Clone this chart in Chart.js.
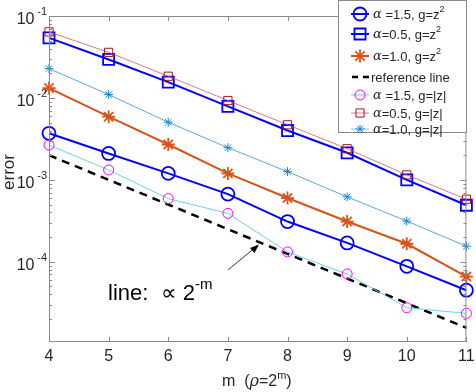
<!DOCTYPE html>
<html>
<head>
<meta charset="utf-8">
<script src="https://cdn.jsdelivr.net/npm/chart.js@4.4.1/dist/chart.umd.min.js"></script>
<style>
  html, body { margin: 0; padding: 0; background: #fff; }
  #wrap { width: 476px; height: 392px; }
</style>
</head>
<body>
<div id="wrap"><canvas id="chart" width="476" height="392"></canvas></div>
<script>
// m values (x axis)
const mValues = [4, 5, 6, 7, 8, 9, 10, 11];

// errors
const a15z2 = [3.7e-3, 2.1e-3, 1.2e-3, 6.7e-4, 3.1e-4, 1.7e-4, 8.8e-5, 4.5e-5];
const a05z2 = [5.4e-2, 2.95e-2, 1.56e-2, 7.9e-3, 4.0e-3, 2.14e-3, 1.0e-3, 4.9e-4];
const a10z2 = [1.32e-2, 5.9e-3, 2.7e-3, 1.2e-3, 6.0e-4, 3.1e-4, 1.66e-4, 6.6e-5];
const refLine = [2.0e-3, 1.0e-3, 5.0e-4, 2.5e-4, 1.25e-4, 6.25e-5, 3.125e-5, 1.5625e-5];
const a15abs = [2.66e-3, 1.32e-3, 5.9e-4, 3.9e-4, 1.32e-4, 7.1e-5, 2.75e-5, 2.35e-5];
const a05abs = [6.4e-2, 3.6e-2, 1.84e-2, 9.3e-3, 4.7e-3, 2.4e-3, 1.15e-3, 5.8e-4];
const a10abs = [2.28e-2, 1.1e-2, 5.05e-3, 2.47e-3, 1.26e-3, 6.2e-4, 3.14e-4, 1.55e-4];

const yDecades = [-1, -2, -3, -4];

const toPts = arr => mValues.map((m, i) => ({ x: m, y: arr[i] }));

const TXT = '#262626';
const FRAME = '#8a8a8a';
const SANS = '"Liberation Sans", Arial, sans-serif';

function series(label, arr, color, lineColor, width, style, radius, bw, dash) {
  return {
    label, data: toPts(arr),
    borderColor: lineColor, borderWidth: width, borderDash: dash || [],
    pointStyle: style, pointRadius: radius, pointBorderColor: color,
    pointBorderWidth: bw, pointBackgroundColor: 'rgba(0,0,0,0)',
    pointHoverRadius: radius, tension: 0, clip: false, fill: false
  };
}

const datasets = [
  series('a05abs', a05abs, '#A2142F', '#c45a72', 0.8, 'rect', 5.8, 1, null),
  series('a10abs', a10abs, '#1f86c8', '#2f92d0', 0.8, 'star', 4.5, 1, null),
  series('a15abs', a15abs, '#ff00ff', '#6fcdee', 1, 'circle', 5, 1, null),
  series('ref', refLine, '#000', '#000', 2.5, false, 0, 0, [8, 6]),
  series('a15z2', a15z2, '#0000ff', '#0000ff', 2, 'circle', 6.5, 1.8, null),
  series('a05z2', a05z2, '#0000ff', '#0000ff', 2, 'rect', 7.8, 1.8, null),
  series('a10z2', a10z2, '#D95319', '#D95319', 2, 'star', 6.5, 1.8, null)
];

// legend entries (drawn by hand so alpha and exponents render like the figure)
const legendRows = [
  { y: 14, style: 'circle', r: 6.5, color: '#0000ff', line: '#0000ff', lw: 2, bw: 1.8, text: [['\u03b1', 'a'], [' =1.5, g=z', 'n'], ['2', 's']] },
  { y: 34, style: 'rect', r: 7.8, color: '#0000ff', line: '#0000ff', lw: 2, bw: 1.8, text: [['\u03b1', 'a'], ['=0.5, g=z', 'n'], ['2', 's']] },
  { y: 56, style: 'star', r: 6.5, color: '#D95319', line: '#D95319', lw: 2, bw: 1.8, text: [['\u03b1', 'a'], ['=1.0, g=z', 'n'], ['2', 's']] },
  { y: 77, style: null, color: '#000', line: '#000', lw: 2.5, text: [['reference line', 'n']] },
  { y: 95, style: 'circle', r: 5, color: '#ff00ff', line: '#6fcdee', lw: 1, bw: 1, text: [['\u03b1', 'a'], [' =1.5, g=|z|', 'n']] },
  { y: 113, style: 'rect', r: 5.8, color: '#A2142F', line: '#c45a72', lw: 0.8, bw: 1, text: [['\u03b1', 'a'], ['=0.5, g=|z|', 'n']] },
  { y: 129, style: 'star', r: 4.5, color: '#1f86c8', line: '#6fcdee', lw: 1, bw: 1, text: [['\u03b1', 'a'], ['=1.0, g=|z|', 'n']] }
];

function rich(ctx, x, y, parts, base) {
  const fonts = {
    n: base + 'px ' + SANS,
    a: 'italic ' + base + 'px "DejaVu Serif", "Liberation Serif", serif',
    s: Math.round(base * 0.7) + 'px ' + SANS
  };
  ctx.textBaseline = 'middle';
  ctx.textAlign = 'left';
  parts.forEach(([t, k]) => {
    ctx.font = fonts[k];
    const dy = k === 's' ? -base * 0.4 : 0;
    ctx.fillText(t, x, y + dy);
    x += ctx.measureText(t).width;
  });
  return x;
}

const decor = {
  id: 'decor',
  afterDraw(chart) {
    const { ctx, chartArea: a, scales } = chart;
    const xs = scales.x, ys = scales.y;
    ctx.save();

    // frame
    ctx.strokeStyle = FRAME;
    ctx.lineWidth = 1;
    ctx.strokeRect(a.left + 0.5, a.top + 0.5, a.right - a.left - 1, a.bottom - a.top - 1);

    // x ticks (inward, bottom and top)
    ctx.beginPath();
    mValues.forEach(m => {
      const px = Math.round(xs.getPixelForValue(m)) + 0.5;
      ctx.moveTo(px, a.bottom); ctx.lineTo(px, a.bottom - 5);
      ctx.moveTo(px, a.top); ctx.lineTo(px, a.top + 5);
    });
    // y ticks, major and minor
    for (let d = -5; d <= -2; d++) {
      for (let k = 1; k <= 9; k++) {
        const v = k * Math.pow(10, d);
        if (v < ys.min || v > ys.max) continue;
        const py = Math.round(ys.getPixelForValue(v)) + 0.5;
        const len = k === 1 ? 6 : 3;
        ctx.moveTo(a.left, py); ctx.lineTo(a.left + len, py);
        ctx.moveTo(a.right, py); ctx.lineTo(a.right - len, py);
      }
    }
    ctx.stroke();

    // x tick labels
    ctx.fillStyle = TXT;
    ctx.font = '16px ' + SANS;
    ctx.textAlign = 'center';
    ctx.textBaseline = 'middle';
    mValues.forEach(m => ctx.fillText(String(m), xs.getPixelForValue(m), 357));

    // y tick labels 10^d
    yDecades.forEach(d => {
      const py = ys.getPixelForValue(Math.pow(10, d));
      ctx.font = '11px ' + SANS;
      const ew = ctx.measureText(String(d).replace('-', '\u2212')).width;
      ctx.textAlign = 'right';
      ctx.fillText(String(d).replace('-', '-'), 47, py - 4);
      ctx.font = '16px ' + SANS;
      ctx.fillText('10', 47 - ew, py + 4);
    });

    // axis titles
    ctx.textAlign = 'center';
    ctx.font = '17px ' + SANS;
    ctx.save();
    ctx.translate(9, 172);
    ctx.rotate(-Math.PI / 2);
    ctx.fillText('error', 0, 0);
    ctx.restore();
    rich(ctx, 222, 382, [['m  (', 'n'], ['\u03c1', 'r'], ['=2', 'n'], ['m', 's'], [')', 'n']].map(p => p[1] === 'r' ? [p[0], 'a'] : p), 16);

    // annotation
    ctx.fillStyle = '#000';
    rich(ctx, 108, 294, [['line:  \u221d 2', 'n'], ['-m', 's']], 22);
    ctx.strokeStyle = '#000';
    ctx.lineWidth = 0.8;
    ctx.beginPath();
    ctx.moveTo(228, 270); ctx.lineTo(257, 246);
    ctx.stroke();
    ctx.beginPath();
    ctx.moveTo(259, 244.5); ctx.lineTo(250, 248); ctx.lineTo(254.5, 253);
    ctx.closePath();
    ctx.fillStyle = '#000';
    ctx.fill();

    // legend
    ctx.fillStyle = '#fff';
    ctx.fillRect(338, 0, 129, 133);
    ctx.strokeStyle = FRAME;
    ctx.lineWidth = 1;
    ctx.strokeRect(338.5, 0.5, 128, 132);
    legendRows.forEach(r => {
      ctx.strokeStyle = r.line;
      ctx.lineWidth = r.lw;
      ctx.setLineDash(r.style ? [] : [6, 5]);
      ctx.beginPath();
      ctx.moveTo(r.style ? 351 : 352, r.y); ctx.lineTo(369, r.y);
      ctx.stroke();
      ctx.setLineDash([]);
      if (r.style) {
        ctx.strokeStyle = r.color;
        ctx.fillStyle = 'rgba(0,0,0,0)';
        ctx.lineWidth = r.bw;
        Chart.helpers.drawPoint(ctx, { pointStyle: r.style, rotation: 0, radius: r.r, borderWidth: r.bw }, 360, r.y);
      }
      ctx.fillStyle = TXT;
      rich(ctx, r.style ? 373 : 371, r.y + 1, r.text, 13);
    });

    ctx.restore();
  }
};

new Chart(document.getElementById('chart'), {
  type: 'line',
  data: { datasets },
  options: {
    responsive: false,
    animation: false,
    events: [],
    layout: { padding: { left: 49, right: 7, top: 16, bottom: 50 } },
    plugins: { legend: { display: false }, tooltip: { enabled: false } },
    scales: {
      x: { type: 'linear', min: 4, max: 11, display: false },
      y: { type: 'logarithmic', min: 1.05e-5, max: 0.1, display: false }
    }
  },
  plugins: [decor]
});
</script>
</body>
</html>
